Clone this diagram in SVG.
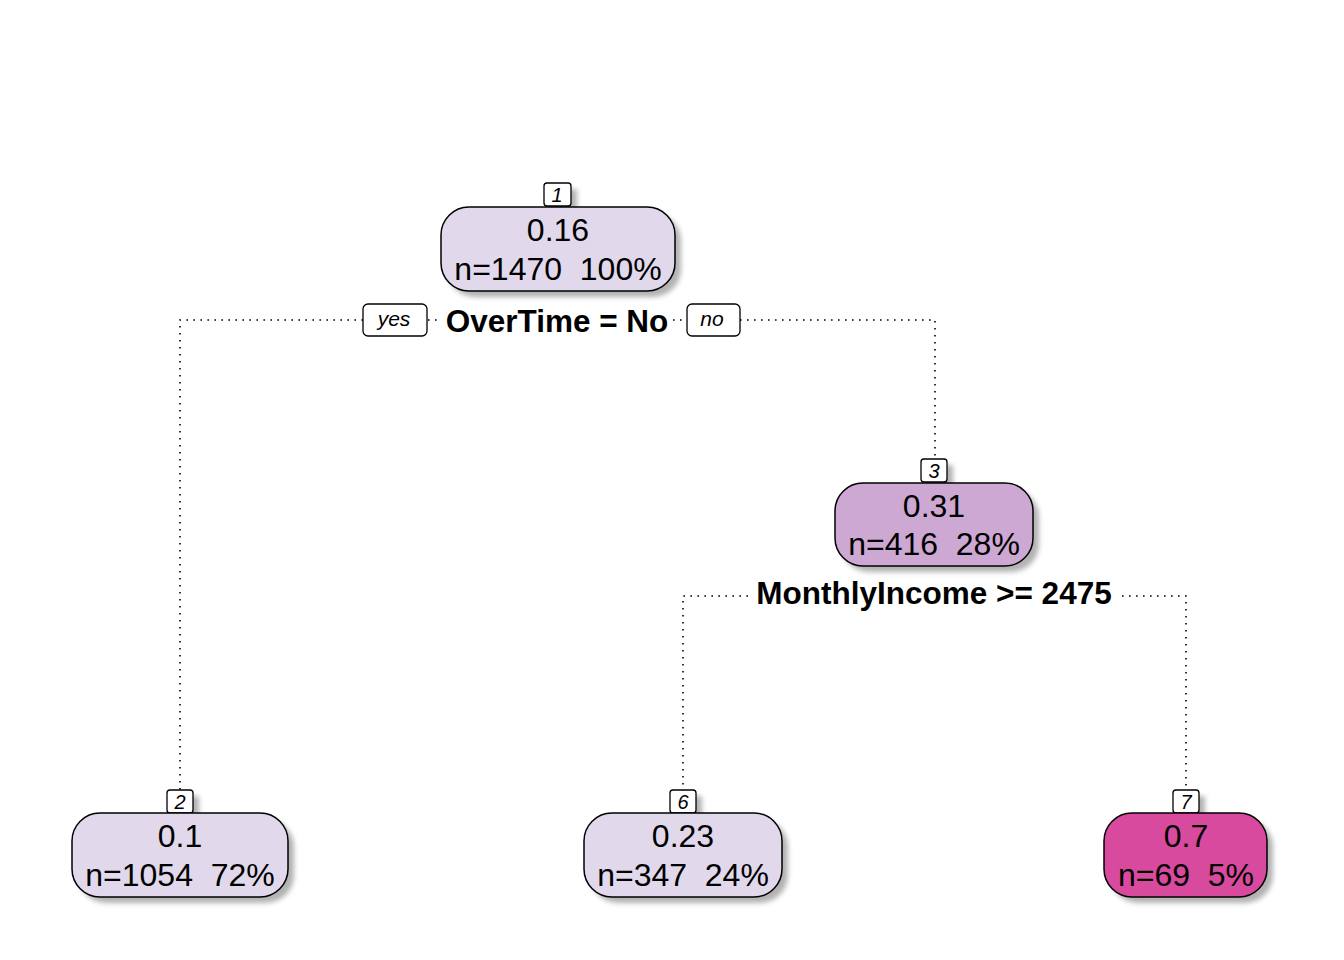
<svg xmlns="http://www.w3.org/2000/svg" width="1344" height="960" viewBox="0 0 1344 960">
<defs>
<filter id="blur" x="-10%" y="-10%" width="130%" height="130%"><feGaussianBlur stdDeviation="2.5"/></filter>
</defs>
<style>
.box{stroke:#000;stroke-width:1.5}
.shadow{fill:#999;opacity:0.75;filter:url(#blur)}
.lab{fill:#fff;stroke:#000;stroke-width:1.3}
.t{font-family:"Liberation Sans",Arial,sans-serif;font-size:32px;text-anchor:middle;fill:#000;white-space:pre}
.num{font-family:"Liberation Sans",Arial,sans-serif;font-size:20px;font-style:italic;text-anchor:middle;fill:#000}
.split{font-family:"Liberation Sans",Arial,sans-serif;font-size:31.5px;font-weight:bold;text-anchor:middle;fill:#000}
.yn{font-family:"Liberation Sans",Arial,sans-serif;font-size:21px;font-style:italic;text-anchor:middle;fill:#000}
.dot{fill:none;stroke:#000;stroke-width:1.6;stroke-dasharray:1.6 5.4}
</style>
<rect width="1344" height="960" fill="#fff"/>
<g id="connectors">
<path class="dot" d="M363 320 H180 V790"/>
<path class="dot" d="M428 320 H440"/>
<path class="dot" d="M673 320 H687"/>
<path class="dot" d="M740 320 H935 V459"/>
<path class="dot" d="M748 596 H683 V790"/>
<path class="dot" d="M1122 596 H1186 V790"/>
<text class="split" x="557" y="332">OverTime = No</text>
<rect class="lab" x="363" y="304" width="64" height="32" rx="5"/>
<text class="yn" x="394" y="326">yes</text>
<rect class="lab" x="687" y="304" width="53" height="32" rx="5"/>
<text class="yn" x="712" y="326">no</text>
<text class="split" x="934" y="604">MonthlyIncome &gt;= 2475</text>
</g>
<g id="node1">
<rect class="shadow" x="550" y="189" width="27" height="23" rx="2"/>
<rect class="lab" x="544" y="183" width="27" height="23" rx="3"/>
<text class="num" x="557" y="202">1</text>
<rect class="shadow" x="447" y="213" width="234" height="84" rx="28"/>
<rect class="box" x="441" y="207" width="234" height="84" rx="28" fill="#E1D9EB"/>
<text class="t" x="558" y="241">0.16</text>
<text class="t" x="558" y="280" xml:space="preserve">n=1470  100%</text>
</g>
<g id="node3">
<rect class="shadow" x="927" y="465" width="26" height="23" rx="2"/>
<rect class="lab" x="921" y="459" width="26" height="23" rx="3"/>
<text class="num" x="934" y="478">3</text>
<rect class="shadow" x="841" y="489" width="198" height="83" rx="28"/>
<rect class="box" x="835" y="483" width="198" height="83" rx="28" fill="#CDA8D2"/>
<text class="t" x="934" y="517">0.31</text>
<text class="t" x="934" y="555" xml:space="preserve">n=416  28%</text>
</g>
<g id="node2">
<rect class="shadow" x="173" y="796" width="26" height="23" rx="2"/>
<rect class="lab" x="167" y="790" width="26" height="23" rx="3"/>
<text class="num" x="180" y="809">2</text>
<rect class="shadow" x="78" y="819" width="216" height="84" rx="28"/>
<rect class="box" x="72" y="813" width="216" height="84" rx="28" fill="#E1D9EB"/>
<text class="t" x="180" y="847">0.1</text>
<text class="t" x="180" y="886" xml:space="preserve">n=1054  72%</text>
</g>
<g id="node6">
<rect class="shadow" x="676" y="796" width="26" height="23" rx="2"/>
<rect class="lab" x="670" y="790" width="26" height="23" rx="3"/>
<text class="num" x="683" y="809">6</text>
<rect class="shadow" x="590" y="819" width="198" height="84" rx="28"/>
<rect class="box" x="584" y="813" width="198" height="84" rx="28" fill="#E1D9EB"/>
<text class="t" x="683" y="847">0.23</text>
<text class="t" x="683" y="886" xml:space="preserve">n=347  24%</text>
</g>
<g id="node7">
<rect class="shadow" x="1179" y="796" width="26" height="23" rx="2"/>
<rect class="lab" x="1173" y="790" width="26" height="23" rx="3"/>
<text class="num" x="1186" y="809">7</text>
<rect class="shadow" x="1110" y="819" width="163" height="84" rx="28"/>
<rect class="box" x="1104" y="813" width="163" height="84" rx="28" fill="#D84A9E"/>
<text class="t" x="1186" y="847">0.7</text>
<text class="t" x="1186" y="886" xml:space="preserve">n=69  5%</text>
</g>
</svg>
